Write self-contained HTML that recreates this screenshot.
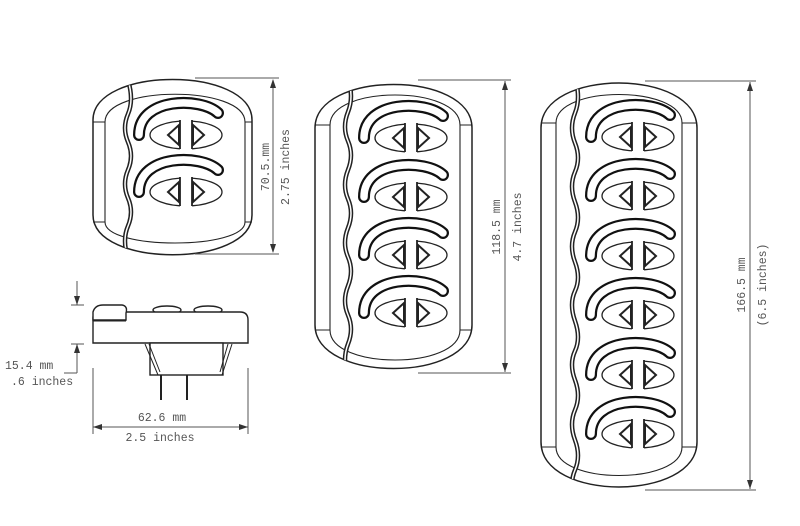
<!DOCTYPE html>
<html><head><meta charset="utf-8"><style>
html,body{margin:0;padding:0;background:#fff}
svg{display:block}
text{font-family:"Liberation Mono",monospace;font-size:11.5px;fill:#555}
</style></head><body>
<svg width="800" height="526" viewBox="0 0 800 526" xmlns="http://www.w3.org/2000/svg">
<defs>
<g id="u">
 <path d="M-47,0 C-47,-38 15,-38 32,-22" fill="none" stroke="#111" stroke-width="12" stroke-linecap="round"/>
 <path d="M-47,0 C-47,-38 15,-38 32,-22" fill="none" stroke="#fff" stroke-width="7.5" stroke-linecap="round"/>
 <ellipse cx="0" cy="0" rx="36" ry="14" fill="#fff" stroke="#222" stroke-width="1.3"/>
 <rect x="-6" y="-16" width="12" height="32" fill="#fff"/>
 <line x1="-6" y1="-15" x2="-6" y2="14" stroke="#222" stroke-width="1.8"/>
 <line x1="6" y1="-15" x2="6" y2="14" stroke="#222" stroke-width="1.8"/>
 <polygon points="-7,-10 -7,10 -18,0" fill="none" stroke="#222" stroke-width="2"/>
 <polygon points="7,-10 7,10 18,0" fill="none" stroke="#222" stroke-width="2"/>
</g>
<clipPath id="c1"><path d="M93,120 C93,66 252,66 252,120 L252,215 C252,268 93,268 93,215 Z"/></clipPath>
<clipPath id="c2"><path d="M315,128 C315,70 472,70 472,128 L472,325 C472,383 315,383 315,325 Z"/></clipPath>
<clipPath id="c3"><path d="M541,128 C541,68 697,68 697,128 L697,442 C697,502 541,502 541,442 Z"/></clipPath>
</defs>
<g fill="none" stroke="#222" stroke-width="1.5">
<path d="M93,120 C93,66 252,66 252,120 L252,215 C252,268 93,268 93,215 Z"/>
<path d="M105,122 C105,85 245,85 245,122 L245,222 C245,250 105,250 105,222 Z" stroke-width="1.1"/>
<line x1="93" y1="122" x2="105" y2="122" stroke-width="1"/><line x1="93" y1="222" x2="105" y2="222" stroke-width="1"/>
<line x1="245" y1="122" x2="252" y2="122" stroke-width="1"/><line x1="245" y1="222" x2="252" y2="222" stroke-width="1"/>
<path d="M315,128 C315,70 472,70 472,128 L472,325 C472,383 315,383 315,325 Z"/>
<path d="M330,125 C330,85 460,85 460,125 L460,330 C460,370 330,370 330,330 Z" stroke-width="1.1"/>
<line x1="315" y1="125" x2="330" y2="125" stroke-width="1"/><line x1="315" y1="330" x2="330" y2="330" stroke-width="1"/>
<line x1="460" y1="125" x2="472" y2="125" stroke-width="1"/><line x1="460" y1="330" x2="472" y2="330" stroke-width="1"/>
<path d="M541,128 C541,68 697,68 697,128 L697,442 C697,502 541,502 541,442 Z"/>
<path d="M556,123 C556,85 682,85 682,123 L682,447 C682,485 556,485 556,447 Z" stroke-width="1.1"/>
<line x1="541" y1="123" x2="556" y2="123" stroke-width="1"/><line x1="541" y1="447" x2="556" y2="447" stroke-width="1"/>
<line x1="682" y1="123" x2="697" y2="123" stroke-width="1"/><line x1="682" y1="447" x2="697" y2="447" stroke-width="1"/>
</g>
<g fill="none" stroke-linecap="round">
<g clip-path="url(#c1)">
<path d="M128,80 Q134,100 128,114 T128,142 T128,170 T128,198 T128,226 T128,258" stroke="#222" stroke-width="4.5"/>
<path d="M128,80 Q134,100 128,114 T128,142 T128,170 T128,198 T128,226 T128,258" stroke="#fff" stroke-width="1.5"/>
</g>
<g clip-path="url(#c2)">
<path d="M348,78 Q354,97 348,112 T348,141 T348,170 T348,199 T348,228 T348,257 T348,286 T348,315 T348,344 T348,380" stroke="#222" stroke-width="4.5"/>
<path d="M348,78 Q354,97 348,112 T348,141 T348,170 T348,199 T348,228 T348,257 T348,286 T348,315 T348,344 T348,380" stroke="#fff" stroke-width="1.5"/>
</g>
<g clip-path="url(#c3)">
<path d="M575,78 Q581,98 575,113 T575,143 T575,172 T575,202 T575,232 T575,262 T575,291 T575,321 T575,351 T575,380 T575,410 T575,440 T575,470 T575,500" stroke="#222" stroke-width="4.5"/>
<path d="M575,78 Q581,98 575,113 T575,143 T575,172 T575,202 T575,232 T575,262 T575,291 T575,321 T575,351 T575,380 T575,410 T575,440 T575,470 T575,500" stroke="#fff" stroke-width="1.5"/>
</g>
</g>
<use href="#u" x="186" y="135"/><use href="#u" x="186" y="192"/>
<use href="#u" x="411" y="138"/><use href="#u" x="411" y="197"/><use href="#u" x="411" y="255"/><use href="#u" x="411" y="313"/>
<use href="#u" x="638" y="137"/><use href="#u" x="638" y="196"/><use href="#u" x="638" y="256"/><use href="#u" x="638" y="315"/><use href="#u" x="638" y="375"/><use href="#u" x="638" y="434"/>
<g stroke="#555" stroke-width="1" fill="#333">
<line x1="195" y1="78" x2="279" y2="78"/><line x1="195" y1="254" x2="279" y2="254"/>
<line x1="273" y1="80" x2="273" y2="252"/>
<polygon points="273,79 270,88 276,88" stroke="none"/><polygon points="273,253 270,244 276,244" stroke="none"/>
<line x1="418" y1="80" x2="511" y2="80"/><line x1="418" y1="373" x2="511" y2="373"/>
<line x1="505" y1="81" x2="505" y2="372"/>
<polygon points="505,81 502,90 508,90" stroke="none"/><polygon points="505,372 502,363 508,363" stroke="none"/>
<line x1="645" y1="81" x2="756" y2="81"/><line x1="645" y1="490" x2="756" y2="490"/>
<line x1="750" y1="82" x2="750" y2="489"/>
<polygon points="750,82 747,91 753,91" stroke="none"/><polygon points="750,489 747,480 753,480" stroke="none"/>
<line x1="77" y1="281" x2="77" y2="305"/><line x1="71" y1="305" x2="84" y2="305"/>
<polygon points="77,305 74,296 80,296" stroke="none"/>
<line x1="71" y1="344" x2="84" y2="344"/><line x1="77" y1="344" x2="77" y2="373"/><line x1="64" y1="373" x2="77" y2="373"/>
<polygon points="77,344 74,353 80,353" stroke="none"/>
<line x1="93" y1="368" x2="93" y2="434"/><line x1="248" y1="368" x2="248" y2="434"/>
<line x1="93" y1="427" x2="248" y2="427"/>
<polygon points="93,427 102,424 102,430" stroke="none"/><polygon points="248,427 239,424 239,430" stroke="none"/>
</g>
<g fill="#fff" stroke="#222" stroke-width="1.4">
<ellipse cx="167" cy="310" rx="14" ry="4"/><ellipse cx="208" cy="310" rx="14" ry="4"/>
<path d="M93,343 L93,318 Q93,312 100,312 L240,312 Q248,312 248,320 L248,343 Z"/>
<path d="M93,320 L93,312 Q95,305 103,305 L122,305 Q128,306 126,313 L126,320 Z"/>
<line x1="93" y1="321" x2="126" y2="321" stroke-width="1"/>
<rect x="150" y="343" width="73" height="32"/>
<path d="M145,344 L158,375 M149,344 L160,372 M232,344 L222,375 M228,344 L220,372" fill="none" stroke-width="1"/>
<line x1="161" y1="375" x2="161" y2="400" stroke-width="2"/><line x1="187" y1="375" x2="187" y2="400" stroke-width="2"/>
</g>
<text transform="translate(269,167) rotate(-90)" text-anchor="middle">70.5.mm</text>
<text transform="translate(289,167) rotate(-90)" text-anchor="middle">2.75 inches</text>
<text transform="translate(500,227) rotate(-90)" text-anchor="middle">118.5 mm</text>
<text transform="translate(521,227) rotate(-90)" text-anchor="middle">4.7 inches</text>
<text transform="translate(745,285) rotate(-90)" text-anchor="middle">166.5 mm</text>
<text transform="translate(766,285) rotate(-90)" text-anchor="middle">(6.5 inches)</text>
<text x="5" y="369">15.4 mm</text>
<text x="11" y="385">.6 inches</text>
<text x="162" y="421" text-anchor="middle">62.6 mm</text>
<text x="160" y="441" text-anchor="middle">2.5 inches</text>
</svg>
</body></html>
